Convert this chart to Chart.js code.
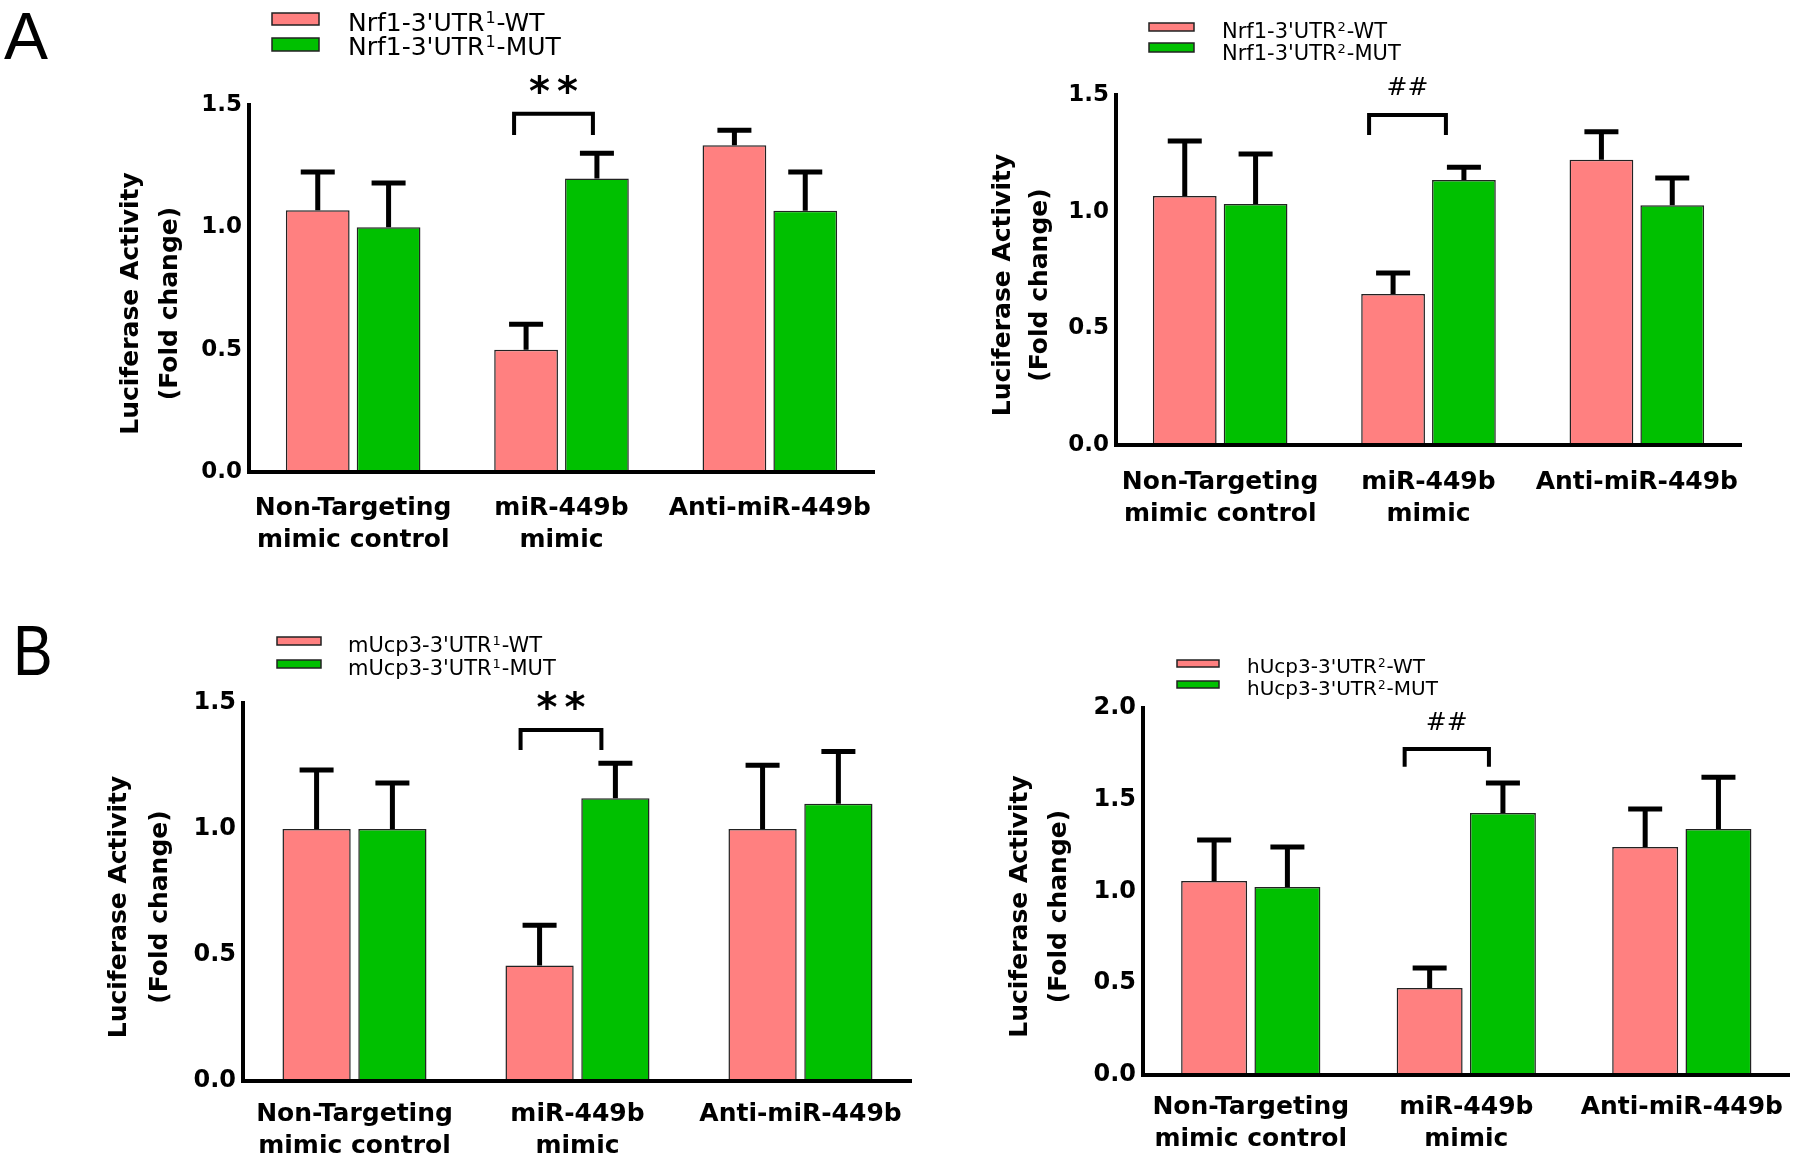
<!DOCTYPE html>
<html>
<head>
<meta charset="utf-8">
<script src="https://cdn.jsdelivr.net/npm/chart.js@4.4.1/dist/chart.umd.min.js"></script>
<style>
  body { margin: 0; background: #fff; }
  #page { position: relative; width: 1800px; height: 1164px; overflow: hidden; background: #fff; }
  canvas { position: absolute; }
</style>
</head>
<body>
<div id="page">
  <canvas id="b1" width="920" height="582" style="left:0;top:582px"></canvas>
  <canvas id="b2" width="900" height="582" style="left:900px;top:582px"></canvas>
  <canvas id="a1" width="900" height="582" style="left:0;top:0"></canvas>
  <canvas id="a2" width="900" height="582" style="left:900px;top:0"></canvas>
</div>
<script>
const categories = [['Non-Targeting', 'mimic control'], ['miR-449b', 'mimic'], 'Anti-miR-449b'];
const yTitleLines = ['Luciferase Activity', '(Fold change)'];
const ticks15 = [0, 0.5, 1.0, 1.5];
const ticks20 = [0, 0.5, 1.0, 1.5, 2.0];

// A left: Nrf1 3'UTR site 1
const nrf1u1Key = [["Nrf1-3'UTR", '1', '-WT'], ["Nrf1-3'UTR", '1', '-MUT']];
const nrf1u1Wt = [1.07, 0.50, 1.335];
const nrf1u1WtErr = [0.156, 0.104, 0.062];
const nrf1u1Mut = [1.00, 1.20, 1.068];
const nrf1u1MutErr = [0.181, 0.103, 0.158];

// A right: Nrf1 3'UTR site 2
const nrf1u2Key = [["Nrf1-3'UTR", '2', '-WT'], ["Nrf1-3'UTR", '2', '-MUT']];
const nrf1u2Wt = [1.067, 0.647, 1.223];
const nrf1u2WtErr = [0.236, 0.090, 0.119];
const nrf1u2Mut = [1.033, 1.136, 1.027];
const nrf1u2MutErr = [0.214, 0.054, 0.117];

// B left: mouse Ucp3
const mUcp3Key = [["mUcp3-3'UTR", '1', '-WT'], ["mUcp3-3'UTR", '1', '-MUT']];
const mUcp3Wt = [1.00, 0.458, 1.00];
const mUcp3WtErr = [0.234, 0.160, 0.253];
const mUcp3Mut = [1.00, 1.122, 1.10];
const mUcp3MutErr = [0.183, 0.139, 0.208];

// B right: human Ucp3
const hUcp3Key = [["hUcp3-3'UTR", '2', '-WT'], ["hUcp3-3'UTR", '2', '-MUT']];
const hUcp3Wt = [1.057, 0.474, 1.243];
const hUcp3WtErr = [0.224, 0.109, 0.206];
const hUcp3Mut = [1.025, 1.428, 1.34];
const hUcp3MutErr = [0.218, 0.163, 0.283];

const pink = 'rgb(255,128,128)';
const green = 'rgb(0,192,0)';
const edge = '#222';
const dejavu = '"DejaVu Sans", sans-serif';
const arial = '"Liberation Sans", Arial, sans-serif';

// upper error bars only
const errorBars = {
  id: 'errorBars',
  afterDatasetsDraw(chart, args, o) {
    const ctx = chart.ctx, y = chart.scales.y;
    ctx.save();
    ctx.strokeStyle = '#000';
    ctx.lineWidth = o.width;
    chart.data.datasets.forEach((ds, i) => {
      chart.getDatasetMeta(i).data.forEach((bar, j) => {
        const top = y.getPixelForValue(ds.data[j] + ds.errors[j]);
        ctx.beginPath();
        ctx.moveTo(bar.x, bar.y);
        ctx.lineTo(bar.x, top);
        ctx.moveTo(bar.x - o.cap / 2, top);
        ctx.lineTo(bar.x + o.cap / 2, top);
        ctx.stroke();
      });
    });
    ctx.restore();
  }
};

// bracket + significance mark over one group
const sigMark = {
  id: 'sigMark',
  afterDraw(chart, args, o) {
    const ctx = chart.ctx, y = chart.scales.y;
    const a = chart.getDatasetMeta(0).data[o.group];
    const b = chart.getDatasetMeta(1).data[o.group];
    const x1 = a.x + o.dx[0], x2 = b.x + o.dx[1];
    const yTop = y.getPixelForValue(o.top), yLeg = y.getPixelForValue(o.leg);
    ctx.save();
    ctx.strokeStyle = '#000';
    ctx.lineWidth = 4;
    ctx.beginPath();
    ctx.moveTo(x1, yLeg);
    ctx.lineTo(x1, yTop);
    ctx.lineTo(x2, yTop);
    ctx.lineTo(x2, yLeg);
    ctx.stroke();
    ctx.font = o.font;
    ctx.fillStyle = '#000';
    ctx.textAlign = 'center';
    ctx.textBaseline = 'alphabetic';
    ctx.letterSpacing = o.spacing + 'px';
    const m = ctx.measureText(o.text);
    const cy = y.getPixelForValue(o.at);
    ctx.fillText(o.text, (x1 + x2) / 2 + o.spacing / 2, cy + (m.actualBoundingBoxAscent - m.actualBoundingBoxDescent) / 2);
    ctx.restore();
  }
};

// two-line rotated y title, centred a bit below the plot middle
const yTitle = {
  id: 'yTitle',
  afterDraw(chart, args, o) {
    const ctx = chart.ctx, area = chart.chartArea;
    const cy = (area.top + area.bottom) / 2 + o.shift;
    ctx.save();
    ctx.font = 'bold 25px ' + dejavu;
    ctx.fillStyle = '#000';
    ctx.textAlign = 'center';
    ctx.textBaseline = 'alphabetic';
    yTitleLines.forEach((t, i) => {
      ctx.save();
      ctx.translate(o.x[i], cy);
      ctx.rotate(-Math.PI / 2);
      ctx.fillText(t, 0, 0);
      ctx.restore();
    });
    ctx.restore();
  }
};

// legend with superscripts, and the panel letter
const keyBox = {
  id: 'keyBox',
  afterDraw(chart, args, o) {
    const ctx = chart.ctx;
    ctx.save();
    ctx.textBaseline = 'alphabetic';
    ctx.textAlign = 'left';
    chart.data.datasets.forEach((ds, i) => {
      const r = o.boxes[i];
      ctx.fillStyle = ds.backgroundColor;
      ctx.fillRect(r[0], r[1], r[2], r[3]);
      ctx.strokeStyle = edge;
      ctx.lineWidth = 1.5;
      ctx.strokeRect(r[0], r[1], r[2], r[3]);
      const parts = o.parts[i], base = o.base[i];
      const main = o.size + 'px ' + dejavu, sup = Math.round(o.size * 0.62) + 'px ' + dejavu;
      ctx.fillStyle = '#000';
      let x = o.textX;
      ctx.font = main;
      ctx.fillText(parts[0], x, base);
      x += ctx.measureText(parts[0]).width + 1;
      ctx.font = sup;
      ctx.fillText(parts[1], x, base - o.size * 0.32);
      x += ctx.measureText(parts[1]).width + 1;
      ctx.font = main;
      ctx.fillText(parts[2], x, base);
    });
    if (o.tag) {
      ctx.font = o.tag.size + 'px ' + arial;
      ctx.fillStyle = '#000';
      ctx.translate(o.tag.x, o.tag.y);
      ctx.scale(o.tag.sx, 1);
      ctx.fillText(o.tag.text, 0, 0);
    }
    ctx.restore();
  }
};

function panel(id, c) {
  return new Chart(document.getElementById(id), {
    type: 'bar',
    data: {
      labels: categories,
      datasets: [
        { label: c.key[0].join(''), data: c.wt, errors: c.wtErr, backgroundColor: pink, borderColor: edge, borderWidth: 1.5 },
        { label: c.key[1].join(''), data: c.mut, errors: c.mutErr, backgroundColor: green, borderColor: edge, borderWidth: 1.5 }
      ]
    },
    options: {
      responsive: false,
      animation: false,
      events: [],
      layout: { padding: { top: c.top, right: c.right, bottom: 0, left: 0 } },
      datasets: { bar: { categoryPercentage: 0.68, barPercentage: 0.9 } },
      scales: {
        x: {
          grid: { display: false, drawTicks: false },
          border: { color: '#000', width: 4, z: 1 },
          ticks: { color: '#000', padding: c.xPad, maxRotation: 0, autoSkip: false,
                   font: { family: dejavu, weight: 'bold', size: 25, lineHeight: 1.28 } },
          afterFit: s => { s.height = c.xH; }
        },
        y: {
          min: 0,
          max: c.ticks[c.ticks.length - 1],
          grid: { display: false, drawTicks: false },
          border: { color: '#000', width: 4, z: 1 },
          ticks: { color: '#000', padding: 7, font: { family: dejavu, weight: 'bold', size: c.ySize },
                   callback: v => Number(v).toFixed(1) },
          afterBuildTicks: s => { s.ticks = c.ticks.map(v => ({ value: v })); },
          afterFit: s => { s.width = c.left; }
        }
      },
      plugins: {
        legend: { display: false },
        tooltip: { enabled: false },
        errorBars: { width: 5, cap: 34 },
        sigMark: c.sig,
        yTitle: { x: c.titleX, shift: 15 },
        keyBox: c.keyBox
      }
    },
    plugins: [errorBars, sigMark, yTitle, keyBox]
  });
}

panel('a1', {
  key: nrf1u1Key, wt: nrf1u1Wt, wtErr: nrf1u1WtErr, mut: nrf1u1Mut, mutErr: nrf1u1MutErr,
  ticks: ticks15, ySize: 23, left: 249, top: 105, right: 26, xH: 110, xPad: 20,
  titleX: [138, 177],
  sig: { group: 1, dx: [-12, -4], top: 1.464, leg: 1.377, text: '**', at: 1.585, font: 'bold 40px ' + dejavu, spacing: 7 },
  keyBox: { parts: nrf1u1Key, boxes: [[272, 13, 47, 12], [272, 38, 47, 13]], textX: 348, base: [31, 55], size: 25,
            tag: { text: 'A', x: 4, y: 59, size: 66, sx: 1 } }
});

panel('a2', {
  key: nrf1u2Key, wt: nrf1u2Wt, wtErr: nrf1u2WtErr, mut: nrf1u2Mut, mutErr: nrf1u2MutErr,
  ticks: ticks15, ySize: 23, left: 216, top: 95, right: 59, xH: 137, xPad: 21,
  titleX: [110, 147],
  sig: { group: 1, dx: [-24, -18], top: 1.414, leg: 1.329, text: '##', at: 1.539, font: '25px ' + dejavu, spacing: 0 },
  keyBox: { parts: nrf1u2Key, boxes: [[249, 23, 45, 8], [249, 43, 45, 9]], textX: 322, base: [38, 60], size: 21 }
});

panel('b1', {
  key: mUcp3Key, wt: mUcp3Wt, wtErr: mUcp3WtErr, mut: mUcp3Mut, mutErr: mUcp3MutErr,
  ticks: ticks15, ySize: 24, left: 243, top: 121, right: 8, xH: 83, xPad: 17,
  titleX: [126, 167],
  sig: { group: 1, dx: [-19, -14], top: 1.393, leg: 1.313, text: '**', at: 1.512, font: 'bold 40px ' + dejavu, spacing: 7 },
  keyBox: { parts: mUcp3Key, boxes: [[277, 55, 44, 8], [277, 78, 44, 8]], textX: 348, base: [70, 93], size: 21,
            tag: { text: 'B', x: 13, y: 93, size: 70, sx: 0.85 } }
});

panel('b2', {
  key: hUcp3Key, wt: hUcp3Wt, wtErr: hUcp3WtErr, mut: hUcp3Mut, mutErr: hUcp3MutErr,
  ticks: ticks20, ySize: 24, left: 243, top: 126, right: 6, xH: 89, xPad: 16,
  titleX: [127, 166],
  sig: { group: 1, dx: [-25, -14], top: 1.777, leg: 1.68, text: '##', at: 1.93, font: '25px ' + dejavu, spacing: 0 },
  keyBox: { parts: hUcp3Key, boxes: [[277, 78, 42, 7], [277, 99, 42, 7]], textX: 347, base: [91, 113], size: 20 }
});
</script>
</body>
</html>
